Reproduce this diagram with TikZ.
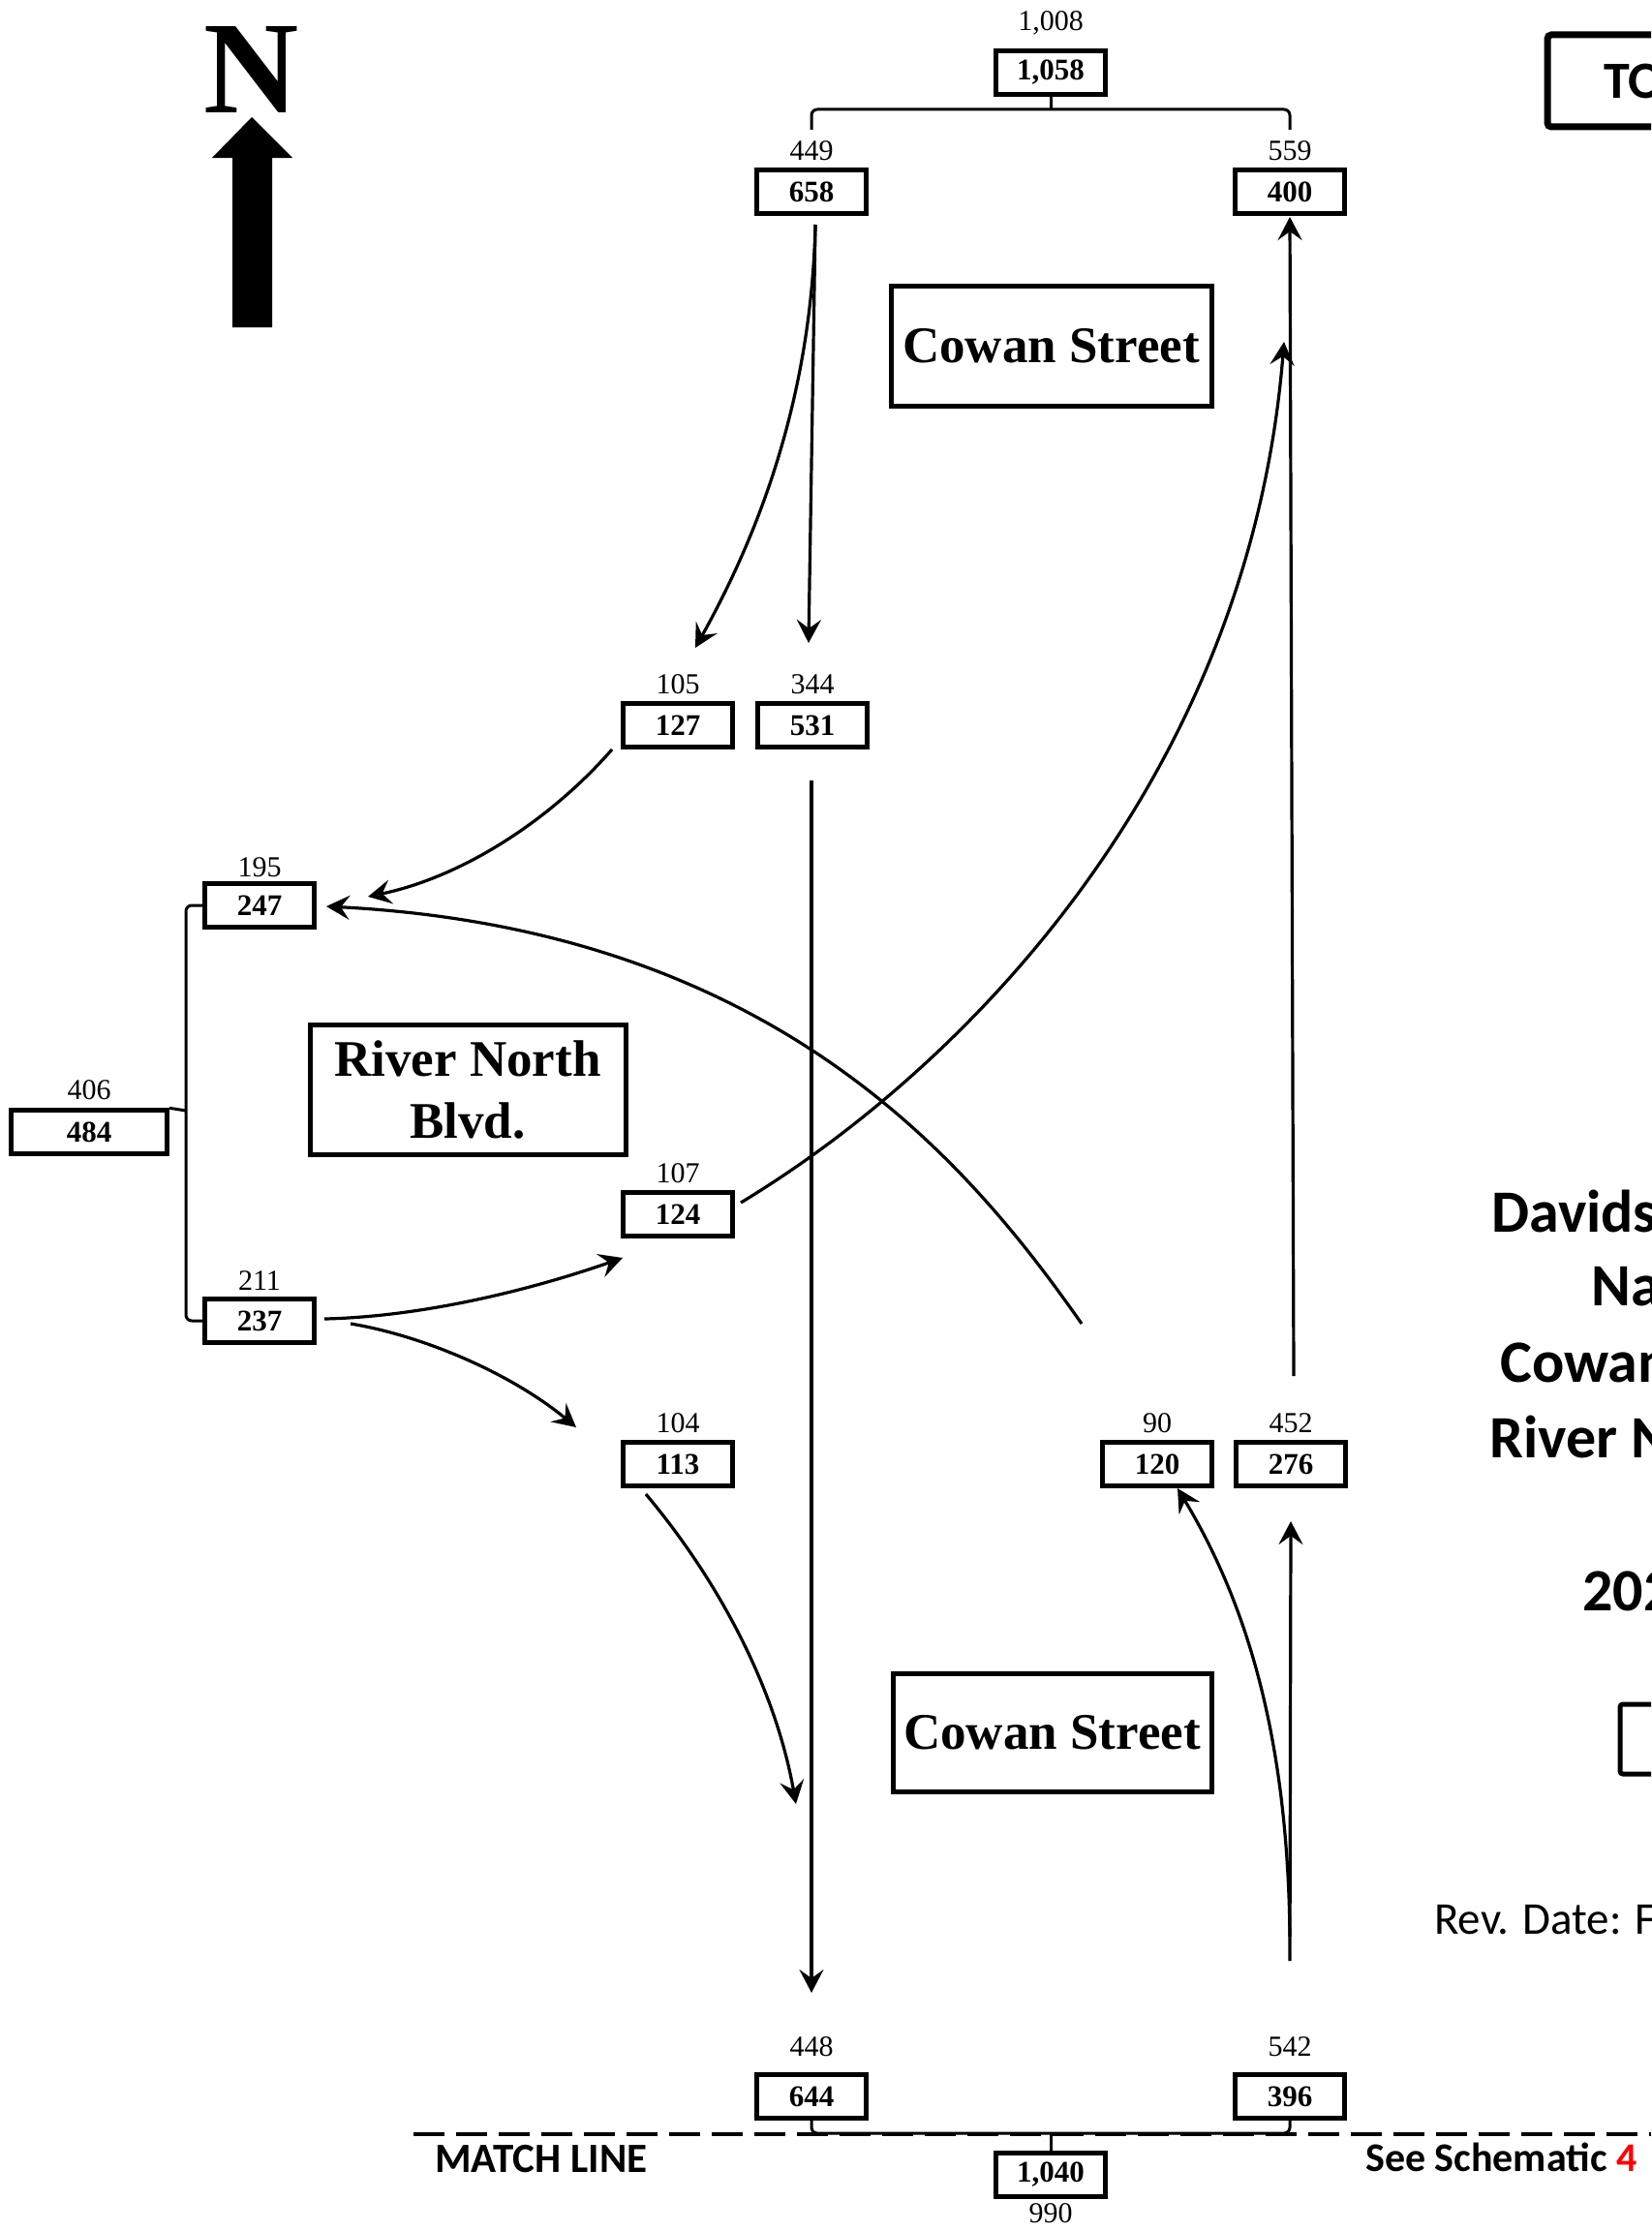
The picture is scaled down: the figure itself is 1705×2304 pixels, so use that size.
\documentclass[tikz,border=0pt]{standalone}
\usepackage{fontspec}
\setmainfont{Liberation Serif}
\newfontfamily\calfont{Carlito}
\usetikzlibrary{arrows.meta}
\begin{document}
\begin{tikzpicture}[x=1pt,y=-1pt,
  vbox/.style={draw, line width=4.5pt, minimum width=113pt, minimum height=45pt, inner sep=0pt, font=\bfseries\fontsize{31}{36}\selectfont},
  lbl/.style={anchor=base, inner sep=0pt, font=\fontsize{30}{36}\selectfont},
  street/.style={draw, line width=5pt, inner sep=0pt, align=center, font=\bfseries\fontsize{53}{64}\selectfont},
  flow/.style={line width=3.2pt, -{Stealth[length=24pt,width=25pt,inset=9pt]}},
  brk/.style={line width=3pt, rounded corners=6pt},
  side/.style={anchor=base west, inner sep=0pt, font=\calfont\bfseries\fontsize{62}{70}\selectfont}]
\useasboundingbox (0,0) rectangle (1705,2304);
\clip (0,0) rectangle (1705,2304);

% compass
\node[anchor=base, inner sep=0pt, font=\bfseries\fontsize{136}{140}\selectfont] (north) at (260,117) {N};
\fill (260,121) -- (302,163) -- (281,163) -- (281,338) -- (240,338) -- (240,163) -- (219,163) -- cycle;

% volume boxes
\node[vbox] (b1058) at (1085,75) {1,058};
\node[lbl] (t1008) at (1085,32) {1,008};
\node[vbox] (b658) at (838,198) {658};
\node[lbl] (t449) at (838,165) {449};
\node[vbox] (b400) at (1332,198) {400};
\node[lbl] (t559) at (1332,165) {559};
\node[vbox] (b127) at (700,749) {127};
\node[lbl] (t105) at (700,716) {105};
\node[vbox] (b531) at (839,749) {531};
\node[lbl] (t344) at (839,716) {344};
\node[vbox] (b247) at (268,935) {247};
\node[lbl] (t195) at (268,905) {195};
\node[vbox, minimum width=161pt] (b484) at (92,1169) {484};
\node[lbl] (t406) at (92,1135) {406};
\node[vbox] (b124) at (700,1254) {124};
\node[lbl] (t107) at (700,1221) {107};
\node[vbox] (b237) at (268,1364) {237};
\node[lbl] (t211) at (268,1332) {211};
\node[vbox] (b113) at (700,1512) {113};
\node[lbl] (t104) at (700,1479) {104};
\node[vbox] (b120) at (1195,1512) {120};
\node[lbl] (t90) at (1195,1479) {90};
\node[vbox] (b276) at (1333,1512) {276};
\node[lbl] (t452) at (1333,1479) {452};
\node[vbox] (b644) at (838,2165) {644};
\node[lbl] (t448) at (838,2123) {448};
\node[vbox] (b396) at (1332,2165) {396};
\node[lbl] (t542) at (1332,2123) {542};
\node[vbox] (b1040) at (1085,2246) {1,040};
\node[lbl] (t990) at (1085,2295) {990};

% street boxes
\node[street, minimum width=331pt, minimum height=124pt] (cowanN) at (1085.5,357) {Cowan Street};
\node[street, minimum width=329pt, minimum height=122pt] (cowanS) at (1086.5,1789) {Cowan Street};
\node[street, minimum width=326pt, minimum height=134pt] (rnb) at (483,1125) {River North\\Blvd.};

% match line
\coordinate (mlA) at (427,2204);
\coordinate (mlB) at (1705,2204);
\draw[line width=4pt, dash pattern=on 32pt off 12pt] (mlA) -- (mlB);
\node[anchor=base west, inner sep=0pt, font=\calfont\bfseries\fontsize{43}{48}\selectfont] (ml) at (449,2243) {MATCH LINE};
\node[anchor=base west, inner sep=0pt, font=\calfont\bfseries\fontsize{42}{48}\selectfont] (see) at (1410,2242) {See Schematic \textcolor{red}{4}};

% brackets
\coordinate (tl) at (838,134);
\coordinate (tr) at (1332,134);
\coordinate (tm) at (1085,113);
\draw[brk] (tl) -- (838,113) -- (1332,113) -- (tr);
\draw[line width=3pt] (b1058.south) -- (tm);
\coordinate (bm) at (1085,2203);
\draw[brk] (b644.south) -- (838,2203) -- (1332,2203) -- (b396.south);
\draw[line width=3pt] (bm) -- (b1040.north);
\coordinate (lm) at (192,1147);
\draw[brk] (b247.west) -- (192,935) -- (192,1364) -- (b237.west);
\draw[line width=3pt] (b484.north east) -- (lm);

% flows
\coordinate (a658) at (842,232);
\coordinate (e127) at (718,669);
\coordinate (e531) at (835,664);
\draw[flow] (a658) .. controls (838,400) and (790,540) .. (e127);
\draw[flow] (a658) -- (e531);
\coordinate (s127) at (632,774);
\coordinate (e247a) at (380,926);
\draw[flow] (s127) .. controls (570,845) and (480,905) .. (e247a);
\coordinate (s531) at (838,806);
\coordinate (e644) at (838,2058);
\draw[flow] (s531) -- (e644);
\coordinate (s120) at (1117,1367);
\coordinate (e247b) at (337,936);
\draw[flow] (s120) .. controls (1000,1200) and (800,960) .. (e247b);
\coordinate (s237a) at (335,1362);
\coordinate (e124) at (643,1299);
\draw[flow] (s237a) .. controls (430,1360) and (540,1335) .. (e124);
\coordinate (s124) at (765,1242);
\coordinate (e400a) at (1326,353);
\draw[flow] (s124) .. controls (1000,1100) and (1290,800) .. (e400a);
\coordinate (s237b) at (362,1367);
\coordinate (e113) at (595,1474);
\draw[flow] (s237b) .. controls (440,1380) and (530,1420) .. (e113);
\coordinate (s113) at (667,1543);
\coordinate (e644b) at (822,1863);
\draw[flow] (s113) .. controls (740,1630) and (800,1740) .. (e644b);
\coordinate (s276) at (1336,1421);
\coordinate (e400b) at (1332,224);
\draw[flow] (s276) -- (e400b);
\coordinate (s396a) at (1332,2000);
\coordinate (e120) at (1216,1537);
\draw[flow] (s396a) .. controls (1330,1800) and (1290,1660) .. (e120);
\coordinate (s396b) at (1332,2025);
\coordinate (e276) at (1333,1571);
\draw[flow] (s396b) -- (e276);

% right-hand title block (cut by the page edge, as in the reference)
\draw[line width=7pt, rounded corners=4pt] (1598,36) rectangle (1800,131);
\node[anchor=base west, inner sep=0pt, font=\calfont\bfseries\fontsize{54}{60}\selectfont] (to) at (1656,102) {TOTAL};
\node[side] (d1) at (1540,1272) {Davidson County};
\node[side] (d2) at (1643,1348) {Nashville};
\node[side] (d3) at (1549,1427) {Cowan Street \&};
\node[side] (d4) at (1538,1505) {River North Blvd.};
\node[side] (d5) at (1634,1663) {2024 Counts};
\draw[line width=5pt, rounded corners=3pt] (1673,1760) rectangle (1800,1832);
\node[anchor=base west, inner sep=0pt, font=\calfont\fontsize{47}{52}\selectfont] (rev) at (1481,1997) {Rev. Date: Feb};
\end{tikzpicture}
\end{document}
